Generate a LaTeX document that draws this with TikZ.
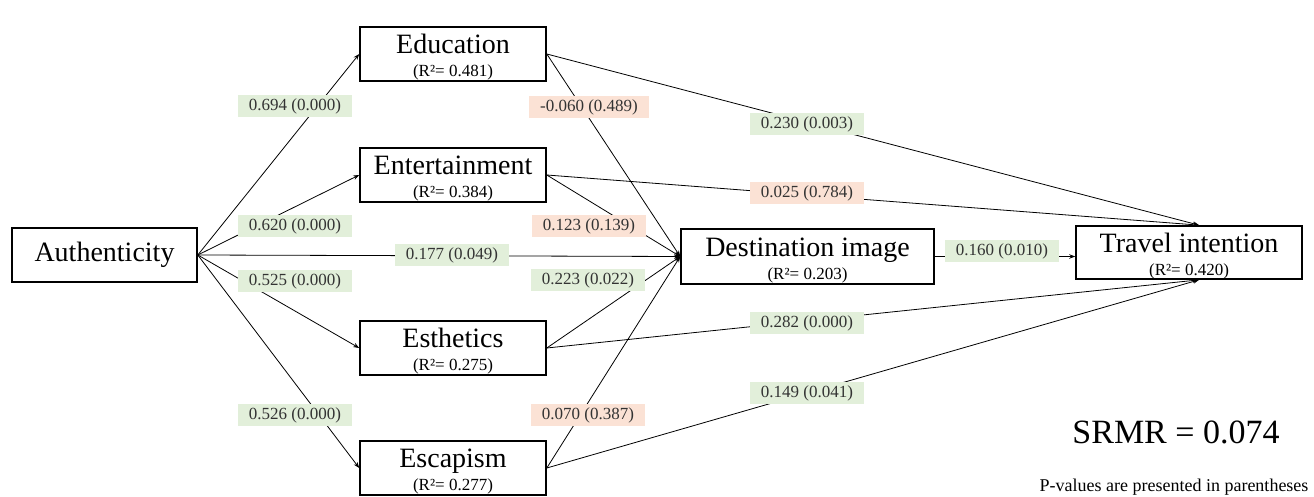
\documentclass[tikz,border=0pt]{standalone}
\usepackage{fontspec}
\setmainfont{Liberation Serif}
\usetikzlibrary{arrows.meta}
\definecolor{coefgreen}{HTML}{E2EFDA}
\definecolor{coefpeach}{HTML}{FBE2D5}
\tikzset{
  latent/.style={draw=black, line width=1.6pt, inner sep=0pt, minimum height=54pt,
    align=center, font=\fontsize{17}{23}\selectfont},
  link/.style={-{Stealth[length=6pt,width=4.5pt]}, line width=0.8pt},
  coefg/.style={fill=coefgreen, text=black!80, inner xsep=11pt, inner ysep=0pt,
    minimum height=22pt, font=\fontsize{17}{17}\selectfont},
  coefp/.style={coefg, fill=coefpeach},
}
\newcommand{\construct}[2]{\rule{0pt}{26.5pt}{\fontsize{28}{28}\selectfont #1}\\(R²= #2)}
\begin{document}
\begin{tikzpicture}[x=1pt, y=-1pt]
                \useasboundingbox (0,0) rectangle (1314,497);
                % Constructs
                \node[latent, minimum width=185pt, font=\fontsize{28}{28}\selectfont] (auth) at (104.5,255) {Authenticity};
                \node[latent, minimum width=186pt] (edu) at (453,54) {\construct{Education}{0.481}};
                \node[latent, minimum width=186pt] (ent) at (453,175) {\construct{Entertainment}{0.384}};
                \node[latent, minimum width=186pt] (est) at (453,348) {\construct{Esthetics}{0.275}};
                \node[latent, minimum width=186pt] (esc) at (453,468) {\construct{Escapism}{0.277}};
                \node[latent, minimum width=253pt, minimum height=55pt] (dimg) at (807.5,256.5) {\construct{Destination image}{0.203}};
                \node[latent, minimum width=226pt, minimum height=53pt] (tint) at (1189,252.5) {\construct{Travel intention}{0.420}};
                % Paths
                \foreach \t in {edu,ent,est,esc,dimg}
                    \draw[link] (auth.east) -- (\t.west);
                \foreach \s in {edu,ent,est,esc}
                    \draw[link] (\s.east) -- (dimg.west);
                \foreach \s in {edu,ent}
                    \draw[link] (\s.east) -- ([xshift=10pt]tint.north);
                \foreach \s in {est,esc}
                    \draw[link] (\s.east) -- ([xshift=10pt]tint.south);
                \draw[link] (dimg.east) -- (dimg.east -| tint.west);
                % Coefficients (p-values)
                \foreach \nm/\x/\y/\sty/\txt in {
                    c1/295/106/coefg/0.694 (0.000), c2/295/226/coefg/0.620 (0.000),
                    c3/295/281/coefg/0.525 (0.000), c4/295/415/coefg/0.526 (0.000),
                    c5/452/255/coefg/0.177 (0.049), c6/589/107/coefp/-0.060 (0.489),
                    c7/589/226/coefp/0.123 (0.139), c8/588/280/coefg/0.223 (0.022),
                    c9/588/415/coefp/0.070 (0.387), c10/807/124/coefg/0.230 (0.003),
                    c11/807/193/coefp/0.025 (0.784), c12/1002/251/coefg/0.160 (0.010),
                    c13/807/323/coefg/0.282 (0.000), c14/807/393/coefg/0.149 (0.041)}
                    \node[\sty] (\nm) at (\x,\y) {\txt};
                % Fit
                \node[font=\fontsize{34}{34}\selectfont] (srmr) at (1176,432) {SRMR = 0.074};
                \node[font=\fontsize{18}{18}\selectfont] (note) at (1174,487) {P-values are presented in parentheses};
\end{tikzpicture}
\end{document}
